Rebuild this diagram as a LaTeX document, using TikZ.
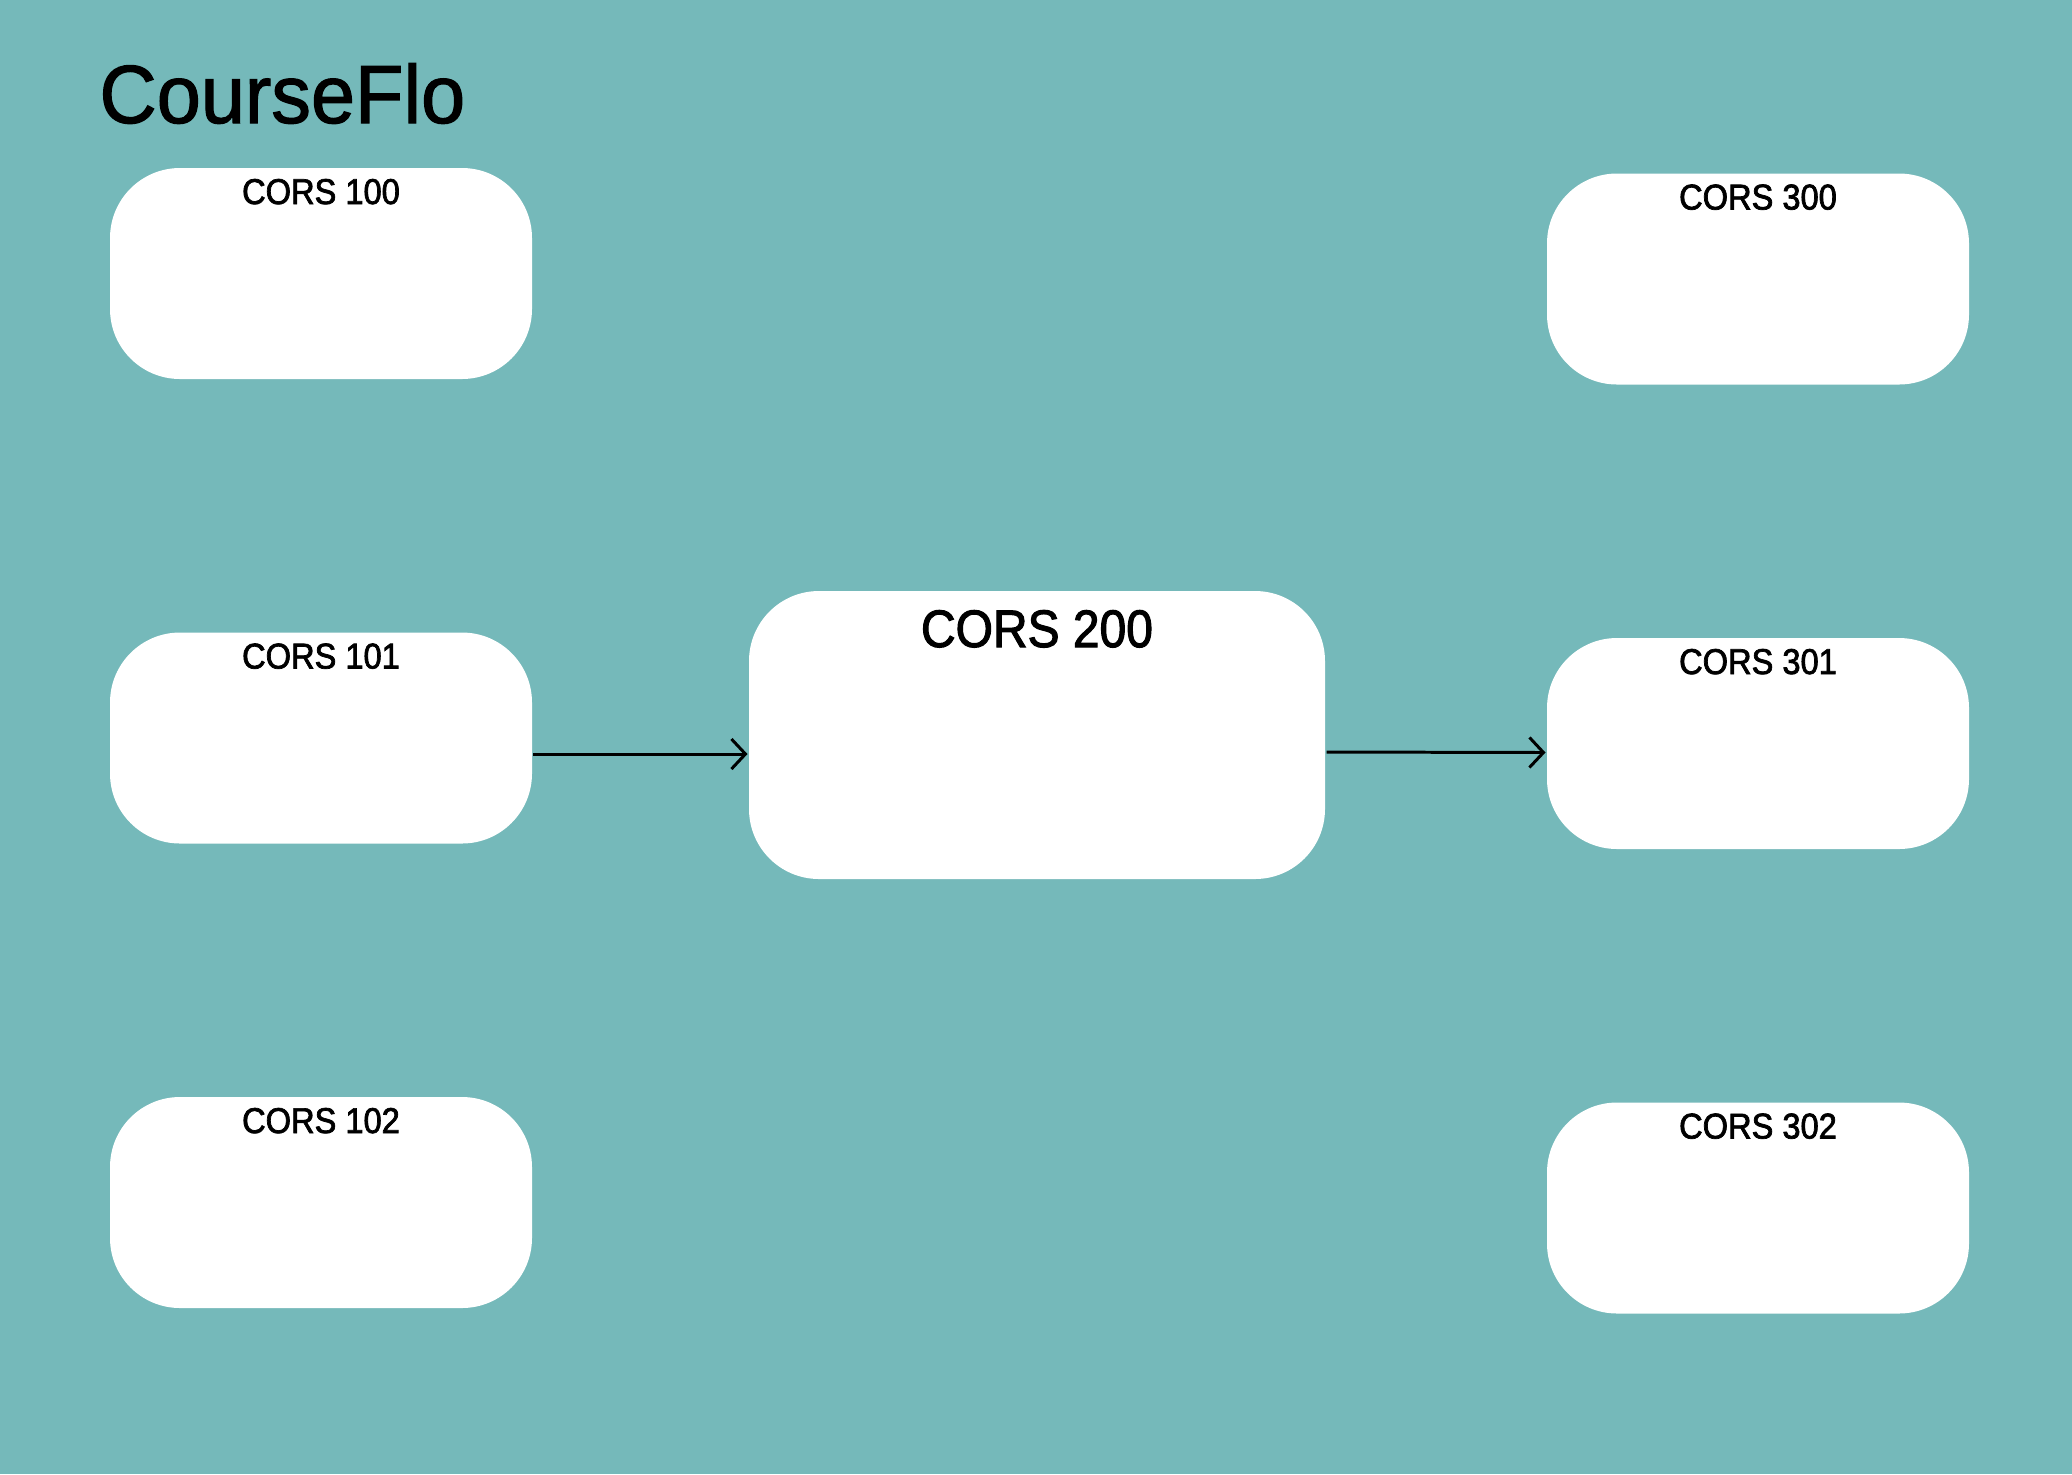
\documentclass[tikz,border=0pt]{standalone}
\usepackage{fontspec}
\setmainfont{Liberation Sans}
\newfontfamily\coursefont[FakeStretch=0.91,FakeBold=2]{Liberation Sans}
\newfontfamily\titlefont[FakeStretch=0.96,FakeBold=1.4]{Liberation Sans}
\usepackage{tikz}
\usetikzlibrary{arrows}
\usetikzlibrary{arrows.meta}
\usetikzlibrary{positioning}
\usepackage{xcolor}
\definecolor{bgteal}{HTML}{75B9BA}

\begin{document}
\begin{tikzpicture}[->, >={Straight Barb[length=0.14cm,width=0.3cm]}, line width=0.85pt, node distance=4.645cm]
\tikzstyle{course} = [rectangle, fill=white, draw=none, rounded corners=0.7cm, minimum width=4.22cm, inner sep=0pt, text height=0.36cm, text depth=1.75cm, font=\coursefont\fontsize{10.2}{12}\selectfont]
\tikzstyle{bigcourse} = [course, minimum width=5.76cm, text height=0.56cm, text depth=2.32cm, font=\coursefont\fontsize{15}{18}\selectfont]

\fill[bgteal] (0,0) rectangle (20.72,-14.74);
\useasboundingbox (0,0) rectangle (20.72,-14.74);

\node[anchor=base west, inner sep=0pt, font=\titlefont\fontsize{23.5}{28}\selectfont] (title) at (0.98,-1.23) {CourseFlo};

\node[course] (C100) at (3.21,-2.735) {CORS 100};
\node[course] (C101)[below of=C100] {CORS 101};
\node[course] (C102)[below of=C101] {CORS 102};
\node[course] (C300) at (17.58,-2.79) {CORS 300};
\node[course] (C301)[below of=C300] {CORS 301};
\node[course] (C302)[below of=C301] {CORS 302};
\node[bigcourse] (C200) at (10.37,-7.35) {CORS 200};

\draw ([yshift=-0.16cm]C101.east) -- ([yshift=-0.16cm]C101.east -| C200.west);
\draw ([yshift=-0.17cm]C200.east) -- ([yshift=-0.09cm]C301.west);

\end{tikzpicture}
\end{document}
